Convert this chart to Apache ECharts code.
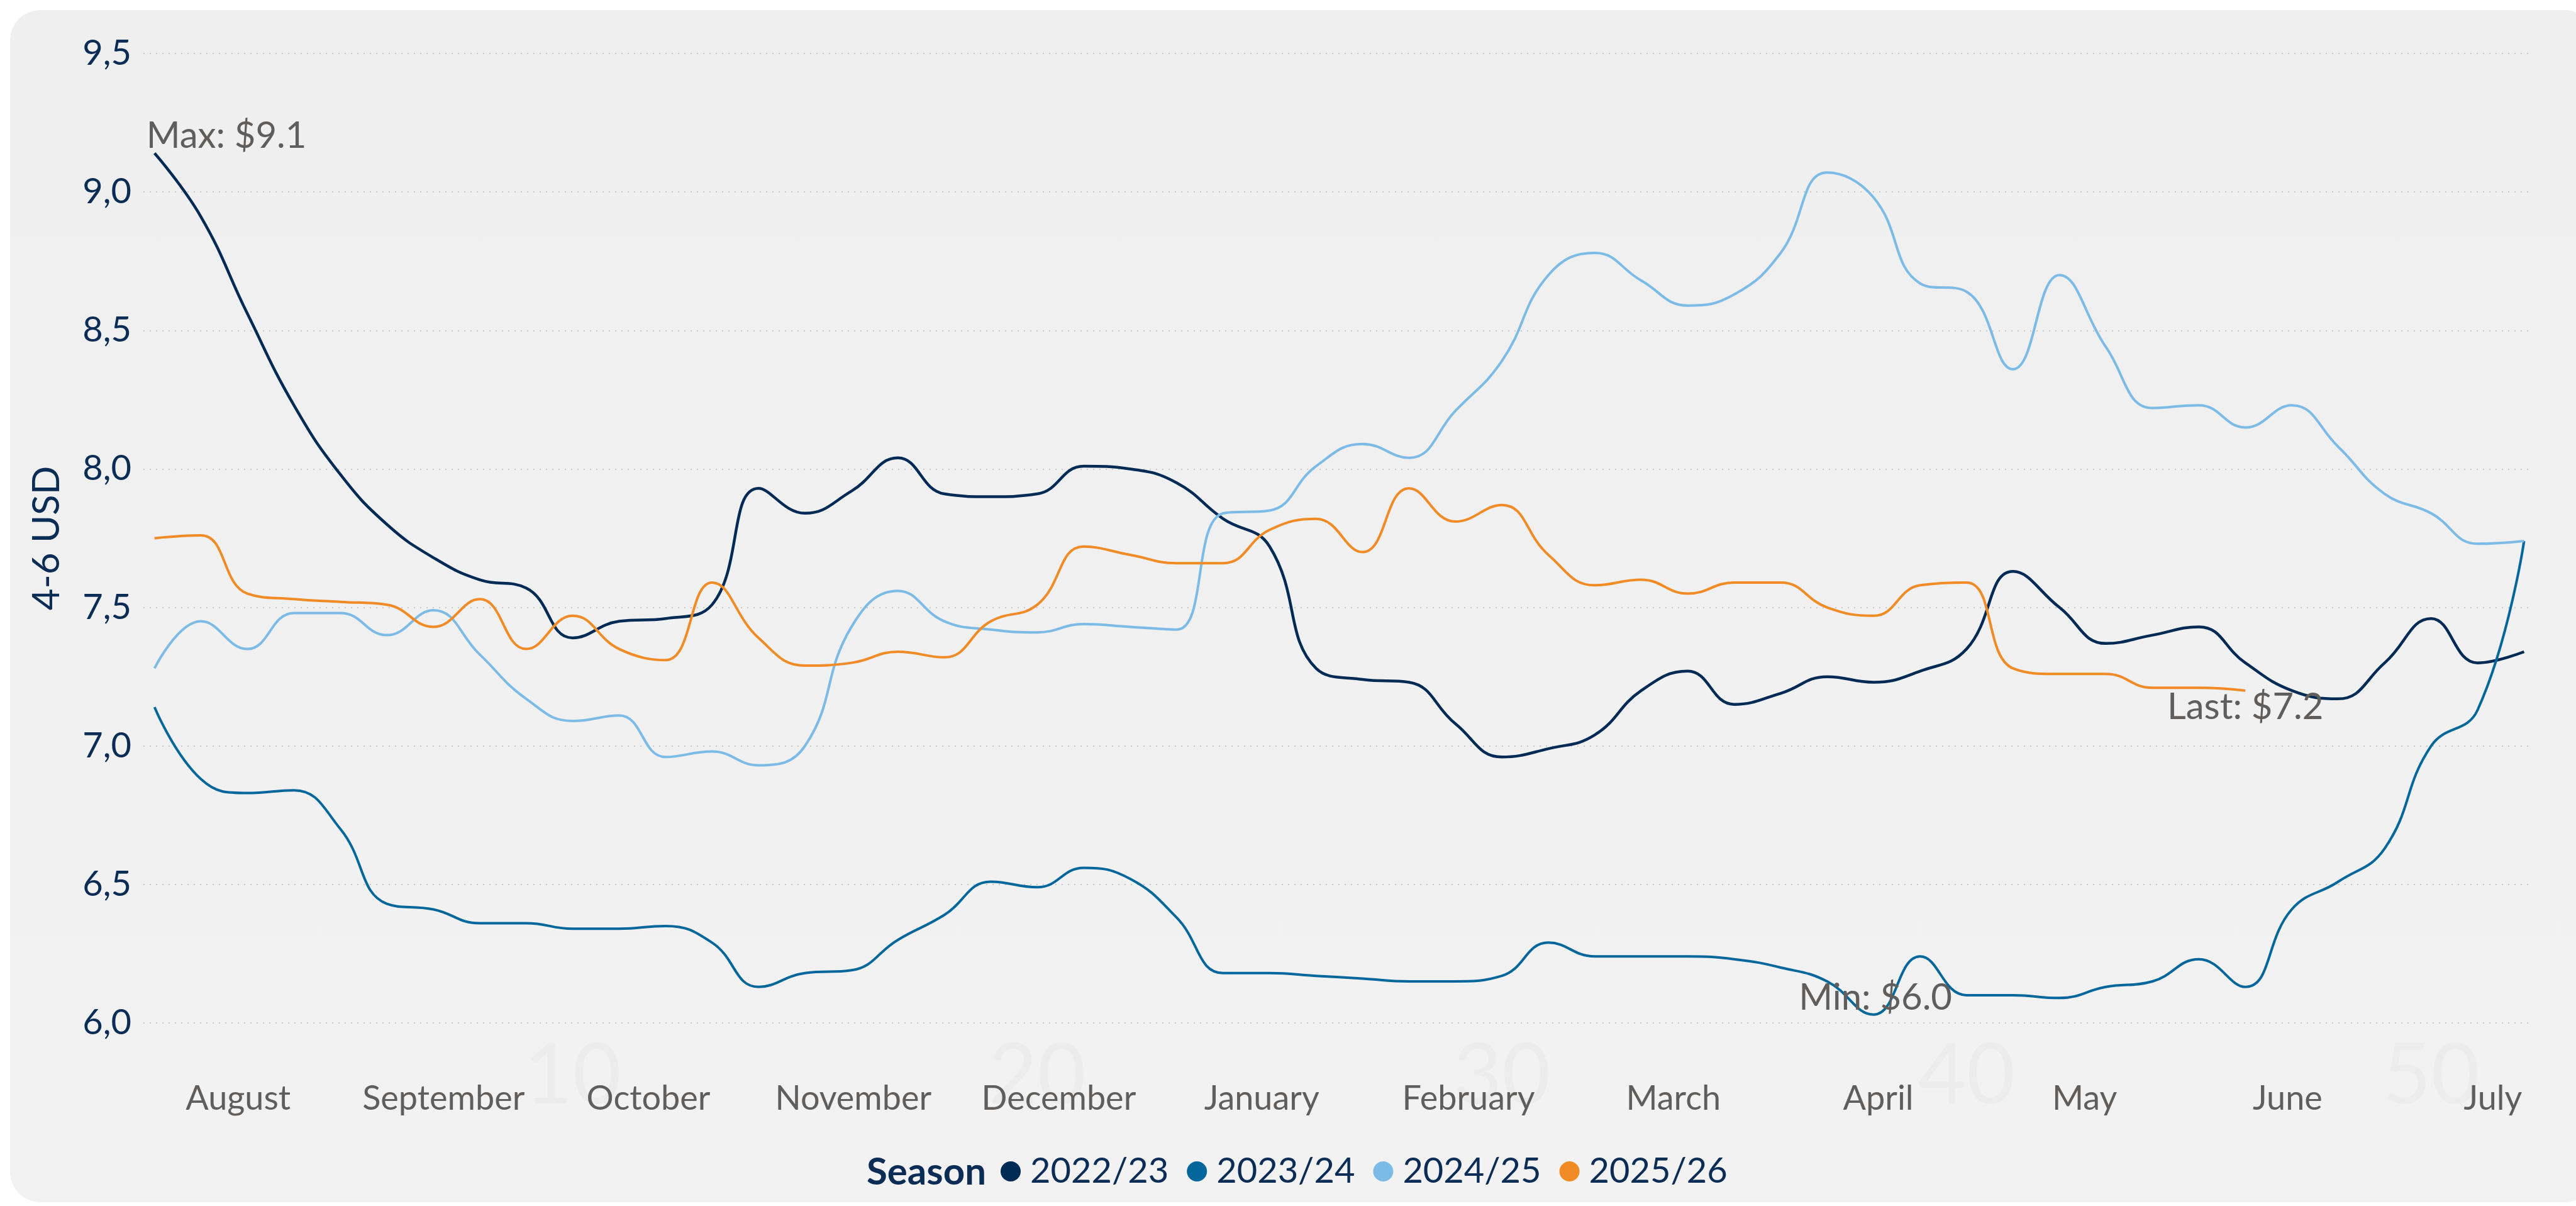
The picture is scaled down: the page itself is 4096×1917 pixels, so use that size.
<!DOCTYPE html>
<html>
<head>
<meta charset="utf-8">
<script src="https://cdn.jsdelivr.net/npm/echarts@6/dist/echarts.min.js"></script>
<style>
  html, body { margin: 0; padding: 0; background: #ffffff; overflow: hidden; }
  #panel {
    position: absolute; left: 16px; top: 16px; width: 4110px; height: 1895px;
    border-radius: 48px;
    background: linear-gradient(#efefef, #f2f2f2);
  }
  #chart { position: absolute; left: 0; top: 0; width: 4096px; height: 1917px; }
</style>
</head>
<body>
<div id="panel"></div>
<div id="chart"></div>
<script>
// week of season (x), one point per week
const weeks = [1, 2, 3, 4, 5, 6, 7, 8, 9, 10, 11, 12, 13, 14, 15, 16, 17, 18, 19, 20, 21, 22, 23, 24, 25, 26,
    27, 28, 29, 30, 31, 32, 33, 34, 35, 36, 37, 38, 39, 40, 41, 42, 43, 44, 45, 46, 47, 48, 49, 50, 51, 52];

const seasons = ['2022/23', '2023/24', '2024/25', '2025/26'];
const colors = ['#012a55', '#04679c', '#7dbbe7', '#f18b25'];

const s2022 = [9.14, 8.91, 8.56, 8.23, 7.98, 7.80, 7.68, 7.60, 7.57, 7.39, 7.45, 7.46, 7.51,
    7.93, 7.84, 7.92, 8.04, 7.91, 7.90, 7.91, 8.01, 8.00, 7.95, 7.82, 7.72, 7.28,
    7.24, 7.23, 7.08, 6.96, 6.99, 7.04, 7.20, 7.27, 7.15, 7.19, 7.25, 7.23, 7.27,
    7.35, 7.63, 7.50, 7.37, 7.40, 7.43, 7.30, 7.20, 7.17, 7.30, 7.46, 7.30, 7.34];
const s2023 = [7.14, 6.88, 6.83, 6.84, 6.70, 6.43, 6.41, 6.36, 6.36, 6.34, 6.34, 6.35, 6.29,
    6.13, 6.18, 6.19, 6.30, 6.39, 6.51, 6.49, 6.56, 6.52, 6.38, 6.18, 6.18, 6.17,
    6.16, 6.15, 6.15, 6.17, 6.29, 6.24, 6.24, 6.24, 6.23, 6.20, 6.15, 6.03, 6.24,
    6.10, 6.10, 6.09, 6.13, 6.15, 6.23, 6.13, 6.41, 6.51, 6.63, 7.00, 7.13, 7.74];
const s2024 = [7.28, 7.45, 7.35, 7.48, 7.48, 7.40, 7.49, 7.33, 7.17, 7.09, 7.11, 6.96, 6.98,
    6.93, 7.00, 7.43, 7.56, 7.45, 7.42, 7.41, 7.44, 7.43, 7.42, 7.84, 7.85, 8.01,
    8.09, 8.04, 8.21, 8.39, 8.70, 8.78, 8.68, 8.59, 8.63, 8.78, 9.07, 8.98, 8.67,
    8.64, 8.36, 8.70, 8.44, 8.22, 8.23, 8.15, 8.23, 8.08, 7.91, 7.84, 7.73, 7.74];
const s2025 = [7.75, 7.76, 7.55, 7.53, 7.52, 7.51, 7.43, 7.53, 7.35, 7.47, 7.35, 7.31, 7.59,
    7.39, 7.29, 7.30, 7.34, 7.32, 7.45, 7.51, 7.72, 7.69, 7.66, 7.66, 7.78, 7.82,
    7.70, 7.93, 7.81, 7.87, 7.69, 7.58, 7.60, 7.55, 7.59, 7.59, 7.50, 7.47, 7.58,
    7.59, 7.28, 7.26, 7.26, 7.21, 7.21, 7.20];

// month labels sit between weeks
const monthNames = ['August', 'September', 'October', 'November', 'December', 'January',
    'February', 'March', 'April', 'May', 'June', 'July'];
const monthPos = [2.80, 7.22, 11.63, 16.04, 20.46, 24.83, 29.28, 33.69, 38.10, 42.54, 46.91, 51.33];
const weekTicks = [10, 20, 30, 40, 50];

const FONT = 'Lato, "Open Sans", sans-serif';
const NAVY = '#0b2c55';
const GREY = '#605e5c';

function pairs(vals) {
    return vals.map((v, i) => [weeks[i], v]);
}

const labelStyle = {
    show: true,
    color: GREY,
    fontFamily: FONT,
    fontSize: 58
};

const xMin = 0.76, xMax = 52.17;

var myChart = echarts.init(document.getElementById('chart'), null, { renderer: 'canvas' });

var option = {
    animation: false,
    backgroundColor: 'transparent',
    textStyle: { fontFamily: FONT },
    grid: { left: 228, right: 70, top: 85, bottom: 291, containLabel: false },
    legend: {
        data: seasons,
        left: 1591,
        top: 1834,
        padding: 0,
        icon: 'circle',
        itemWidth: 32,
        itemHeight: 32,
        itemGap: 29,
        textStyle: { color: NAVY, fontSize: 56, fontFamily: FONT, padding: [0, 0, 0, 10] }
    },
    graphic: [{
        type: 'text',
        right: 4096 - 1568,
        top: 1834,
        style: { text: 'Season', fill: NAVY, font: 'bold 60px ' + FONT }
    }],
    xAxis: [{
        type: 'value', min: xMin, max: xMax, show: false
    }, {
        // faint week numbers
        type: 'value', min: xMin, max: xMax, position: 'bottom',
        axisLine: { show: false }, axisTick: { show: false }, splitLine: { show: false },
        axisLabel: {
            customValues: weekTicks,
            formatter: v => String(v),
            color: '#ececec', fontSize: 133, fontFamily: FONT, margin: 19
        }
    }, {
        type: 'value', min: xMin, max: xMax, position: 'bottom',
        axisLine: { show: false }, axisTick: { show: false }, splitLine: { show: false },
        axisLabel: {
            customValues: monthPos,
            formatter: v => monthNames[monthPos.indexOf(v)],
            color: GREY, fontSize: 54, fontFamily: FONT, margin: 94
        }
    }],
    yAxis: {
        type: 'value',
        min: 6,
        max: 9.5,
        interval: 0.5,
        name: '4-6 USD',
        nameLocation: 'middle',
        nameGap: 123,
        nameTextStyle: { color: NAVY, fontSize: 60, fontFamily: FONT },
        axisLine: { show: false },
        axisTick: { show: false },
        axisLabel: {
            color: NAVY, fontSize: 56, fontFamily: FONT, margin: 19,
            formatter: v => v.toFixed(1).replace('.', ',')
        },
        splitLine: { show: true, lineStyle: { color: '#c9c9c9', width: 2, type: [2, 8] } }
    },
    series: [{
        name: seasons[0],
        type: 'line',
        data: pairs(s2022),
        markPoint: {
            symbol: 'circle', symbolSize: 1, itemStyle: { color: 'transparent' },
            data: [{ type: 'max', valueDim: 'y' }],
            label: Object.assign({}, labelStyle, {
                position: 'top', distance: 0, align: 'left', offset: [-13, 2],
                formatter: p => 'Max: $' + p.value.toFixed(1)
            })
        }
    }, {
        name: seasons[1],
        type: 'line',
        data: pairs(s2023),
        markPoint: {
            symbol: 'circle', symbolSize: 1, itemStyle: { color: 'transparent' },
            data: [{ type: 'min', valueDim: 'y' }],
            label: Object.assign({}, labelStyle, {
                position: 'top', distance: 0, offset: [3, 3],
                formatter: p => 'Min: $' + p.value.toFixed(1)
            })
        }
    }, {
        name: seasons[2],
        type: 'line',
        data: pairs(s2024)
    }, {
        name: seasons[3],
        type: 'line',
        data: pairs(s2025),
        markPoint: {
            symbol: 'circle', symbolSize: 1, itemStyle: { color: 'transparent' },
            data: [{ coord: [weeks[s2025.length - 1], s2025[s2025.length - 1]], value: s2025[s2025.length - 1] }],
            label: Object.assign({}, labelStyle, {
                position: 'bottom', distance: 0, offset: [0, -3],
                formatter: p => 'Last: $' + p.value.toFixed(1)
            })
        }
    }].map((s, i) => Object.assign(s, {
        xAxisIndex: 0,
        showSymbol: false,
        symbol: 'none',
        smooth: 0.45,
        color: colors[i],
        lineStyle: { width: i === 0 ? 4.5 : 4, color: colors[i] },
        emphasis: { disabled: true }
    }))
};

myChart.setOption(option);
</script>
</body>
</html>
